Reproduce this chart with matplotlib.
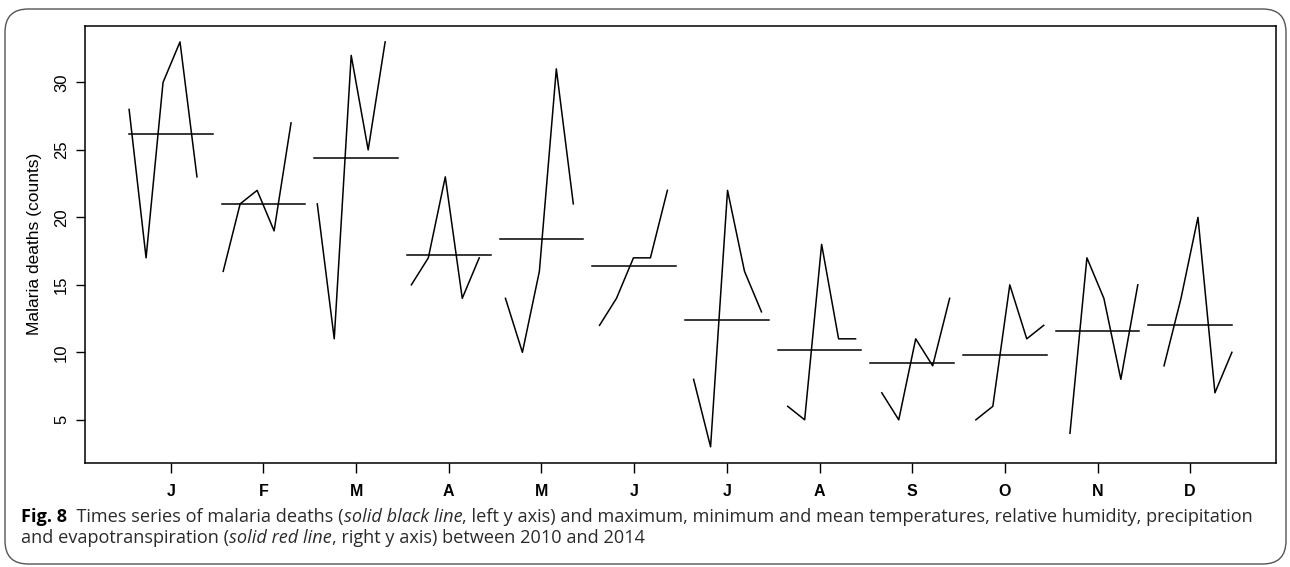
import matplotlib
matplotlib.use("Agg")
import matplotlib.pyplot as plt
import matplotlib.patches as mp
import numpy as np

months = ["J", "F", "M", "A", "M", "J", "J", "A", "S", "O", "N", "D"]
years = [2010, 2011, 2012, 2013, 2014]

# monthly malaria deaths, one list per year (Jan..Dec)
deaths_2010 = [28, 16, 21, 15, 14, 12, 8, 6, 7, 5, 4, 9]
deaths_2011 = [17, 21, 11, 17, 10, 14, 3, 5, 5, 6, 17, 14]
deaths_2012 = [30, 22, 32, 23, 16, 17, 22, 18, 11, 15, 14, 20]
deaths_2013 = [33, 19, 25, 14, 31, 17, 16, 11, 9, 11, 8, 7]
deaths_2014 = [23, 27, 33, 17, 21, 22, 13, 11, 14, 12, 15, 10]

yticks = [5, 10, 15, 20, 25, 30]

deaths = np.array([deaths_2010, deaths_2011, deaths_2012, deaths_2013, deaths_2014])

plt.rcParams['font.family'] = ['Liberation Sans', 'DejaVu Sans']

W, H = 1290, 567
fig = plt.figure(figsize=(W / 100, H / 100), dpi=100)

# rounded frame around figure + caption
frame = mp.FancyBboxPatch((5 / W, 1 - 564 / H), 1281 / W, 555 / H,
                          boxstyle="round,pad=0,rounding_size=0.018",
                          transform=fig.transFigure, fill=False,
                          edgecolor='#555555', linewidth=1.0, mutation_aspect=W / H)
fig.patches.append(frame)

ax = fig.add_axes([85 / W, 1 - 463 / H, (1276 - 85) / W, (463 - 25.7) / H])

# monthplot layout: each month gets a slot of width 0.9, years spread along it
t = np.array([[y + m / 12 for m in range(12)] for y in years])
t0, t1 = t.min(), t.max()
for m in range(12):
    xs = (m + 1) - 0.45 + 0.9 * (t[:, m] - t0) / (t1 - t0)
    ax.plot(xs, deaths[:, m], color='black', linewidth=1.1)
    ax.plot([m + 1 - 0.45, m + 1 + 0.45], [deaths[:, m].mean()] * 2,
            color='black', linewidth=1.1)

ax.set_xlim(0.55 - 0.476, 12.45 + 0.476)
ymin, ymax = deaths.min(), deaths.max()
pad = 0.04 * (ymax - ymin)
ax.set_ylim(ymin - pad, ymax + pad)

ax.set_xticks(range(1, 13))
ax.set_xticklabels(months, fontsize=11.5, fontweight='bold')
ax.set_yticks(yticks)
ax.set_yticklabels([str(v) for v in yticks], fontsize=12, rotation=90, va='center')
ax.tick_params(axis='x', length=7, width=1, pad=8)
ax.tick_params(axis='y', length=6.5, width=1, pad=5)
for s in ax.spines.values():
    s.set_linewidth(1.1)
ax.set_ylabel("Malaria deaths (counts)", fontsize=12.5, labelpad=9)

# caption with mixed styles
renderer = fig.canvas.get_renderer()
cap_font = ['Open Sans', 'DejaVu Sans']
fs = 13.1
line1 = [("Fig. 8", 'normal', 'bold', 'black'),
         ("  Times series of malaria deaths (", 'normal', 'normal', '#2a2a2a'),
         ("solid black line", 'italic', 'normal', '#2a2a2a'),
         (", left y axis) and maximum, minimum and mean temperatures, relative humidity, precipitation",
          'normal', 'normal', '#2a2a2a')]
line2 = [("and evapotranspiration (", 'normal', 'normal', '#2a2a2a'),
         ("solid red line", 'italic', 'normal', '#2a2a2a'),
         (", right y axis) between 2010 and 2014", 'normal', 'normal', '#2a2a2a')]

for parts, ypix in [(line1, 517), (line2, 538)]:
    x = 21
    for txt, style, weight, col in parts:
        tx = fig.text(x / W, 1 - ypix / H, txt, fontsize=fs, family=cap_font,
                      style=style, fontweight=weight, color=col, va='center', ha='left')
        bb = tx.get_window_extent(renderer=renderer)
        x += bb.width

fig.savefig("out.png", dpi=100)
